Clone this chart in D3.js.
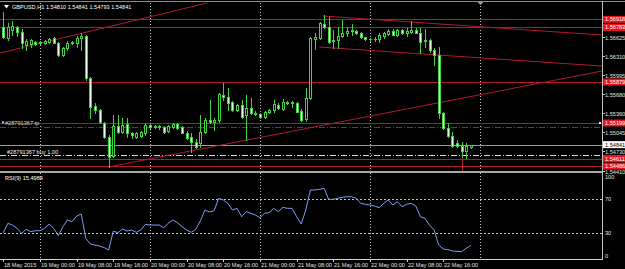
<!DOCTYPE html>
<html><head><meta charset="utf-8">
<script src="https://cdn.jsdelivr.net/npm/d3@7"></script>
<style>
html,body{margin:0;padding:0;background:#000;overflow:hidden}
svg{display:block}
text{font-family:"Liberation Sans",Arial,sans-serif;font-size:5.6px;}
</style></head><body>
<svg id="c" width="625" height="269"></svg>
<script>
// ---------- DATA ----------
const headerText = "GBPUSD,H1  1.54810 1.54841 1.54793 1.54841";
const rsiTitle = "RSI(9) 15.4984";
const openP = [1.56796,1.56603,1.56741,1.56785,1.56713,1.56492,1.56509,1.56537,1.56520,1.56531,
1.56548,1.56614,1.56531,1.56327,1.56437,1.56520,1.56520,1.56614,1.56642,1.55940,
1.55481,1.55415,1.55205,1.54973,1.54652,1.55150,1.55056,1.55183,1.55039,1.54973,
1.54984,1.55039,1.55172,1.55139,1.55150,1.55133,1.55067,1.55139,1.55183,1.55128,
1.55039,1.54962,1.54890,1.54873,1.55056,1.55249,1.55221,1.55249,1.55663,1.55625,
1.55547,1.55415,1.55492,1.55332,1.55442,1.55371,1.55349,1.55304,1.55387,1.55415,
1.55503,1.55437,1.55547,1.55531,1.55536,1.55393,1.55260,1.55608,1.56597,1.56614,
1.56841,1.56796,1.56564,1.56570,1.56642,1.56691,1.56724,1.56730,1.56697,1.56620,
1.56597,1.56586,1.56592,1.56642,1.56680,1.56730,1.56664,1.56741,1.56691,1.56708,
1.56747,1.56697,1.56553,1.56570,1.56410,1.56327,1.55360,1.55111,1.54984,1.54862,
1.54818,1.54741,1.54810];
const highP = [1.57045,1.56852,1.56896,1.56807,1.56752,1.56586,1.56592,1.56553,1.56564,1.56575,
1.56608,1.56631,1.56548,1.56465,1.56564,1.56553,1.56642,1.56686,1.56664,1.55967,
1.55536,1.55426,1.55216,1.55000,1.55332,1.55332,1.55277,1.55277,1.55056,1.55056,
1.55072,1.55194,1.55205,1.55166,1.55161,1.55150,1.55166,1.55205,1.55194,1.55150,
1.55067,1.55028,1.54929,1.55332,1.55277,1.55581,1.55277,1.55691,1.55857,1.55774,
1.55564,1.55514,1.55581,1.55663,1.55608,1.55393,1.55371,1.55404,1.55437,1.55581,
1.55525,1.55592,1.55564,1.55564,1.55553,1.55426,1.55774,1.56631,1.56686,1.56879,
1.56990,1.56962,1.56741,1.56796,1.56907,1.56796,1.56841,1.56741,1.56713,1.56631,
1.56614,1.56620,1.56686,1.56713,1.56752,1.56752,1.56763,1.56758,1.56769,1.56896,
1.56769,1.56769,1.56752,1.56586,1.56437,1.56465,1.55387,1.55194,1.55056,1.54917,
1.54890,1.54873,1.54841];
const lowP = [1.56603,1.56575,1.56658,1.56642,1.56437,1.56410,1.56465,1.56492,1.56503,1.56514,
1.56531,1.56520,1.56310,1.56310,1.56410,1.56509,1.56465,1.56410,1.55912,1.55277,
1.55360,1.55194,1.54945,1.54475,1.54630,1.55028,1.55028,1.54973,1.54945,1.54951,
1.54962,1.55000,1.55111,1.55111,1.55105,1.55039,1.55050,1.55111,1.55105,1.55028,
1.54929,1.54724,1.54779,1.54807,1.55028,1.55194,1.55083,1.55221,1.55581,1.55415,
1.55398,1.55393,1.55277,1.54917,1.55349,1.55326,1.55282,1.55282,1.55371,1.55387,
1.55426,1.55415,1.55514,1.55470,1.55376,1.55238,1.55238,1.55592,1.56421,1.56586,
1.56769,1.56520,1.56437,1.56437,1.56620,1.56642,1.56658,1.56669,1.56603,1.56575,
1.56564,1.56564,1.56548,1.56603,1.56658,1.56653,1.56647,1.56675,1.56642,1.56686,
1.56686,1.56354,1.56465,1.56382,1.56161,1.55277,1.55094,1.54962,1.54807,1.54796,
1.54641,1.54614,1.54793];
const closeP = [1.56631,1.56796,1.56807,1.56713,1.56520,1.56564,1.56575,1.56509,1.56548,1.56564,
1.56592,1.56531,1.56327,1.56448,1.56531,1.56537,1.56614,1.56642,1.55940,1.55470,
1.55415,1.55221,1.54973,1.54641,1.55150,1.55056,1.55166,1.55039,1.55000,1.55039,
1.55056,1.55166,1.55139,1.55150,1.55128,1.55056,1.55150,1.55183,1.55111,1.55039,
1.54945,1.54890,1.54807,1.55056,1.55249,1.55221,1.55249,1.55675,1.55625,1.55536,
1.55415,1.55498,1.55293,1.55442,1.55371,1.55349,1.55304,1.55387,1.55415,1.55509,
1.55442,1.55553,1.55531,1.55542,1.55387,1.55249,1.55608,1.56603,1.56620,1.56852,
1.56796,1.56548,1.56581,1.56642,1.56697,1.56724,1.56736,1.56686,1.56620,1.56597,
1.56586,1.56597,1.56658,1.56686,1.56730,1.56664,1.56747,1.56686,1.56719,1.56747,
1.56697,1.56548,1.56570,1.56410,1.56327,1.55360,1.55111,1.54984,1.54818,1.54818,
1.54741,1.54818,1.54841];
const rsiValues = [30.6,41.7,39.7,35.8,29.9,34.6,31.8,33.0,33.0,35.8,
40.9,35.8,27.1,37.8,45.7,43.7,50.4,52.8,23.9,17.2,
16.0,14.8,12.9,10.1,32.6,30.6,35.0,32.6,33.8,31.0,
33.8,40.5,39.7,39.7,39.7,36.6,41.7,45.7,42.5,37.8,
33.8,31.0,34.6,44.7,57.5,55.2,56.7,71.4,69.4,65.4,
57.5,59.5,49.6,55.6,53.6,51.6,48.4,53.6,54.4,59.5,
55.6,60.7,59.5,59.5,49.6,40.9,57.5,81.3,81.3,82.0,
83.2,70.2,70.2,71.4,72.6,73.3,73.3,71.4,65.4,64.3,
63.5,62.3,60.3,65.4,69.4,63.5,67.4,61.5,64.3,65.4,
62.3,49.6,47.6,39.7,33.8,16.0,11.3,10.5,8.9,8.5,
8.1,12.1,15.4984];
const timeLabels = ["18 May 2015","19 May 00:00","19 May 08:00","19 May 16:00","20 May 00:00","20 May 08:00","20 May 16:00","21 May 00:00","21 May 08:00","21 May 16:00","22 May 00:00","22 May 08:00","22 May 16:00"];
const timeLabelBars = [0,8,16,24,32,40,48,56,64,72,80,88,96];
const gridBars = [8,32,56,80,104];
const priceTicks = [1.56625,1.56310,1.55995,1.55680,1.55360,1.55045,1.54730,1.54410];
const rsiTicks = [100,70,30,0];
const rsiLevels = [70,30];
const levelLines = [1.56918,1.56783,1.55879,1.55199,1.54611,1.54486];
const tpLevel = 1.55128;
const openLevel = 1.54669;
const bidPrice = 1.54841;
const tpText = "#28791367 tp";
const openText = "#28791367 buy 1.00";
const trendLines = [
  [[-0.72,1.56360],[44.45,1.57189]],
  [[22.85,1.54470],[130.6,1.56061]],
  [[69.8,1.56973],[130.6,1.56658]],
  [[68.9,1.56459],[130.6,1.56144]]
];
const vLineBar = 100, vLineFrom = 1.54800;

// ---------- LAYOUT ----------
const W = 625, H = 269;
const plotRight = 602;
const mainTop = 3, mainBottom = 171;
const rsiTop = 174.2, rsiBottom = 258.5;
const green = "#3fd43f", red = "#b3182f";

const svg = d3.select("#c");
svg.append("rect").attr("width",W).attr("height",H).attr("fill","#000");

const x = d3.scaleLinear().domain([0,104]).range([3.3, 3.3 + 104*4.583]);
const y = d3.scaleLinear().domain([1.54404,1.57189]).range([mainBottom, mainTop]);
const yR = d3.scaleLinear().domain([0,100]).range([rsiBottom, rsiTop]);

const defs = svg.append("defs");
defs.append("clipPath").attr("id","clipMain").append("rect")
  .attr("x",0).attr("y",mainTop).attr("width",plotRight).attr("height",mainBottom-mainTop);
defs.append("clipPath").attr("id","clipRsi").append("rect")
  .attr("x",0).attr("y",173).attr("width",plotRight).attr("height",rsiBottom-173);

const px = v => Math.round(v) + 0.5;

// grid verticals (dotted)
const gridG = svg.append("g");
gridBars.forEach(b => {
  const gx = px(x(b));
  gridG.append("line").attr("x1",gx).attr("x2",gx).attr("y1",mainTop).attr("y2",mainBottom)
    .attr("stroke","#c8c8c8").attr("stroke-dasharray","1,2");
  gridG.append("line").attr("x1",gx).attr("x2",gx).attr("y1",173).attr("y2",rsiBottom)
    .attr("stroke","#c8c8c8").attr("stroke-dasharray","1,2");
});
rsiLevels.forEach(l => {
  gridG.append("line").attr("x1",0).attr("x2",plotRight).attr("y1",px(yR(l))).attr("y2",px(yR(l)))
    .attr("stroke","#c8c8c8").attr("stroke-dasharray","2,2");
});

// main chart objects
const mg = svg.append("g").attr("clip-path","url(#clipMain)");
levelLines.forEach(p => {
  mg.append("line").attr("x1",0).attr("x2",plotRight).attr("y1",px(y(p))).attr("y2",px(y(p)))
    .attr("stroke",red).attr("stroke-width",1);
});
mg.append("line").attr("x1",0).attr("x2",plotRight).attr("y1",px(y(tpLevel))).attr("y2",px(y(tpLevel)))
  .attr("stroke",red).attr("stroke-dasharray","6,2,1,2");
mg.append("line").attr("x1",0).attr("x2",plotRight).attr("y1",px(y(openLevel))).attr("y2",px(y(openLevel)))
  .attr("stroke","#d8d8d8").attr("stroke-dasharray","6,2,1,2");
mg.append("line").attr("x1",0).attr("x2",plotRight).attr("y1",px(y(bidPrice))).attr("y2",px(y(bidPrice)))
  .attr("stroke","#9a9a9a");

const lineGen = d3.line().x(d => x(d[0])).y(d => y(d[1]));
trendLines.forEach(tl => {
  const [a,b] = tl;
  const slope = (b[1]-a[1])/(b[0]-a[0]);
  const end = [135, a[1] + slope*(135-a[0])];
  mg.append("path").attr("d", lineGen([a, end])).attr("fill","none")
    .attr("stroke",red).attr("stroke-width",1);
});
mg.append("line").attr("x1",px(x(vLineBar))).attr("x2",px(x(vLineBar)))
  .attr("y1",y(vLineFrom)).attr("y2",mainBottom).attr("stroke",red);

// candles
const cg = svg.append("g").attr("clip-path","url(#clipMain)");
openP.forEach((o,i) => {
  const c = closeP[i];
  const cx = Math.round(x(i));
  cg.append("line").attr("x1",cx+0.5).attr("x2",cx+0.5)
    .attr("y1",Math.round(y(highP[i]))).attr("y2",Math.round(y(lowP[i]))+1)
    .attr("stroke",green);
  const yt = Math.round(y(Math.max(o,c))) + 0.5;
  const yb = Math.round(y(Math.min(o,c))) + 0.5;
  cg.append("rect").attr("x",cx-0.5).attr("y",yt).attr("width",2).attr("height",Math.max(yb-yt,0.01))
    .attr("fill", c >= o ? "#000" : "#e8ffe8").attr("stroke",green);
});

// RSI line
svg.append("path").datum(rsiValues).attr("clip-path","url(#clipRsi)")
  .attr("d", d3.line().x((d,i) => x(i)).y(d => yR(d)))
  .attr("fill","none").attr("stroke","#7d9df0").attr("stroke-width",1);

// frame
svg.append("line").attr("x1",0).attr("x2",W).attr("y1",1.5).attr("y2",1.5).attr("stroke","#8c8c8c");
svg.append("rect").attr("x",0).attr("y",171).attr("width",plotRight+1).attr("height",2).attr("fill","#a8a8a8");
svg.append("line").attr("x1",0).attr("x2",plotRight+0.5).attr("y1",259.5).attr("y2",259.5).attr("stroke","#d0d0d0");
svg.append("line").attr("x1",plotRight+0.5).attr("x2",plotRight+0.5).attr("y1",1).attr("y2",260).attr("stroke","#c0c0c0");
svg.append("path").attr("d",`M${px(x(104))-3},2 L${px(x(104))+3},2 L${px(x(104))},5 Z`).attr("fill","#9a9a9a");

// header
svg.append("path").attr("d","M4,5 L9,5 L6.5,8.5 Z").attr("fill","#fff");
svg.append("text").attr("x",12).attr("y",9).attr("fill","#fff").text(headerText);

// order labels
svg.append("rect").attr("x",2).attr("y",y(tpLevel)-6).attr("width",2).attr("height",2).attr("fill","#f3b0b8");
svg.append("text").attr("x",5).attr("y",y(tpLevel)-2.5).attr("fill","#d8d8d8").text(tpText);
svg.append("text").attr("x",7).attr("y",y(openLevel)-1.5).attr("fill","#f0f0f0").text(openText);
svg.append("rect").attr("x",plotRight-3).attr("y",y(levelLines[3])-1).attr("width",2).attr("height",2).attr("fill","#fff");

// price axis
const ag = svg.append("g");
priceTicks.forEach(p => {
  const yy = px(y(p));
  ag.append("line").attr("x1",plotRight+1).attr("x2",plotRight+3).attr("y1",yy).attr("y2",yy).attr("stroke","#c0c0c0");
  ag.append("text").attr("x",605).attr("y",yy+2).attr("fill","#e0e0e0").text(p.toFixed(5));
});
levelLines.forEach(p => {
  const yy = y(p);
  ag.append("rect").attr("x",603).attr("y",yy-3.5).attr("width",22).attr("height",7).attr("fill","#e8141e");
  ag.append("text").attr("x",605).attr("y",yy+2).attr("fill","#fff").text(p.toFixed(5));
});
{
  const yy = y(bidPrice);
  ag.append("rect").attr("x",603).attr("y",yy-3.5).attr("width",22).attr("height",7).attr("fill","#fff");
  ag.append("text").attr("x",605).attr("y",yy+2).attr("fill","#000").text(bidPrice.toFixed(5));
}
rsiTicks.forEach(t => {
  let yy = yR(t);
  if (t === 100) yy += 2.5;
  if (t === 0) yy -= 3;
  ag.append("text").attr("x",605).attr("y",yy+2).attr("fill","#e0e0e0").text(t);
});
svg.append("text").attr("x",5).attr("y",179.5).attr("fill","#fff").text(rsiTitle);

// time axis
timeLabelBars.forEach((b,k) => {
  const tx = px(x(b));
  ag.append("line").attr("x1",tx).attr("x2",tx).attr("y1",259).attr("y2",262).attr("stroke","#d0d0d0");
  ag.append("text").attr("x",tx+0.5).attr("y",266.5).attr("fill","#e0e0e0").text(timeLabels[k]);
});
</script>
</body></html>
